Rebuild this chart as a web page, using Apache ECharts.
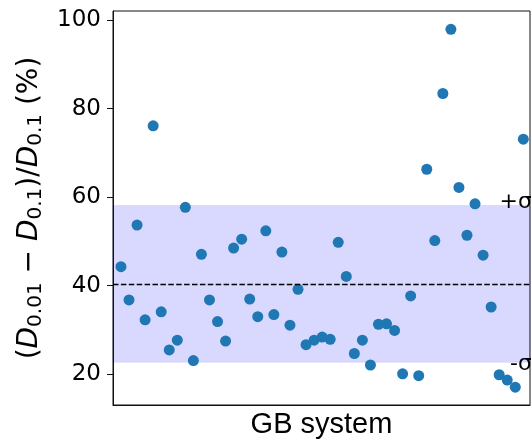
<!DOCTYPE html>
<html>
<head>
<meta charset="utf-8">
<script src="https://cdn.jsdelivr.net/npm/echarts@6/dist/echarts.min.js"></script>
<style>
  html, body { margin: 0; padding: 0; background: #fff; }
  #chart { width: 531px; height: 445px; }
</style>
</head>
<body>
<div id="chart"></div>
<script>
// Relative difference (%) for each GB system, in system order
const systemIndex = Array.from({ length: 51 }, (_, i) => i);
const relDiff = [
  44.3, 36.8, 53.7, 32.3, 76.1, 34.1, 25.5, 27.7, 57.7, 23.1,
  47.1, 36.8, 31.9, 27.5, 48.5, 50.5, 37.0, 33.0, 52.4, 33.5,
  47.6, 31.1, 39.2, 26.7, 27.7, 28.4, 27.9, 49.8, 42.1, 24.7,
  27.7, 22.1, 31.3, 31.4, 29.9, 20.1, 37.7, 19.7, 66.3, 50.2,
  83.4, 97.9, 62.2, 51.4, 58.5, 46.9, 35.2, 19.9, 18.7, 17.1,
  73.1
];
// Mean and ±1σ band
const meanValue = 40.4;
const bandUpper = 58.1;
const bandLower = 22.7;
const yTicks = [20, 40, 60, 80, 100];
const sigmaLabels = ['+σ', '-σ'];

const points = systemIndex.map((x, i) => [x, relDiff[i]]);

const chart = echarts.init(document.getElementById('chart'), null, { renderer: 'canvas' });

const tickFont = 'DejaVu Sans';

chart.setOption({
  animation: false,
  backgroundColor: '#fff',
  grid: {
    left: 113, top: 11, right: 1, bottom: 40,
    show: true, borderColor: '#111', borderWidth: 1, backgroundColor: 'transparent'
  },
  xAxis: {
    type: 'value',
    min: -0.99, max: 50.83,
    axisLine: { show: true, onZero: false, lineStyle: { color: '#111', width: 1 } },
    axisTick: { show: false },
    axisLabel: { show: false },
    splitLine: { show: false },
    name: 'GB system',
    nameLocation: 'middle',
    nameGap: 5,
    nameTextStyle: {
      fontFamily: 'Liberation Sans', fontSize: 29, color: '#000',
      verticalAlign: 'top'
    }
  },
  yAxis: {
    type: 'value',
    min: 13.07, max: 102.03,
    axisLine: { show: true, onZero: false, lineStyle: { color: '#111', width: 1 } },
    axisTick: { show: true, length: 6, customValues: yTicks, lineStyle: { color: '#111', width: 1 } },
    axisLabel: {
      customValues: yTicks, margin: 12,
      fontFamily: tickFont, fontSize: 23, color: '#000'
    },
    splitLine: { show: false },
    name: '{n|(}{i|D}{s|0.01}{n| − }{i|D}{s|0.1}{n|)/}{i|D}{s|0.1}{n| (%)}',
    nameLocation: 'middle',
    nameRotate: 90,
    nameGap: 64,
    nameTextStyle: {
      color: '#000',
      rich: {
        n: { fontFamily: tickFont, fontSize: 28, color: '#000', lineHeight: 34 },
        i: { fontFamily: tickFont, fontSize: 28, fontStyle: 'italic', color: '#000', lineHeight: 34 },
        s: { fontFamily: tickFont, fontSize: 20, color: '#000', lineHeight: 34, padding: [12, 0, 0, 0] }
      }
    }
  },
  series: [
    {
      // mean line and ±σ band
      type: 'line',
      data: [],
      z: 1,
      markArea: {
        silent: true,
        itemStyle: { color: 'rgba(0,0,255,0.15)', borderColor: 'rgba(0,0,255,0.08)', borderWidth: 1 },
        data: [[{ yAxis: bandLower }, { yAxis: bandUpper }]]
      },
      markLine: {
        silent: true,
        symbol: 'none',
        label: { show: false },
        lineStyle: { color: '#000', width: 1.3, type: [5.5, 2.4] },
        data: [{ yAxis: meanValue }]
      }
    },
    {
      type: 'scatter',
      data: points,
      z: 3,
      symbolSize: 11,
      itemStyle: { color: '#1f77b4', opacity: 1 },
      clip: false
    }
  ]
});

// ±σ labels at the right end of the band edges
const xRight = 532;
const yUp = chart.convertToPixel({ yAxisIndex: 0 }, bandUpper);
const yLo = chart.convertToPixel({ yAxisIndex: 0 }, bandLower);
chart.setOption({
  graphic: [
    { type: 'text', x: xRight, y: yUp - 3, z: 10,
      style: { text: sigmaLabels[0], fontFamily: tickFont, fontSize: 22, fill: '#000', align: 'right', verticalAlign: 'middle' } },
    { type: 'text', x: xRight, y: yLo + 2, z: 10,
      style: { text: sigmaLabels[1], fontFamily: tickFont, fontSize: 22, fill: '#000', align: 'right', verticalAlign: 'middle' } }
  ]
});
</script>
</body>
</html>
